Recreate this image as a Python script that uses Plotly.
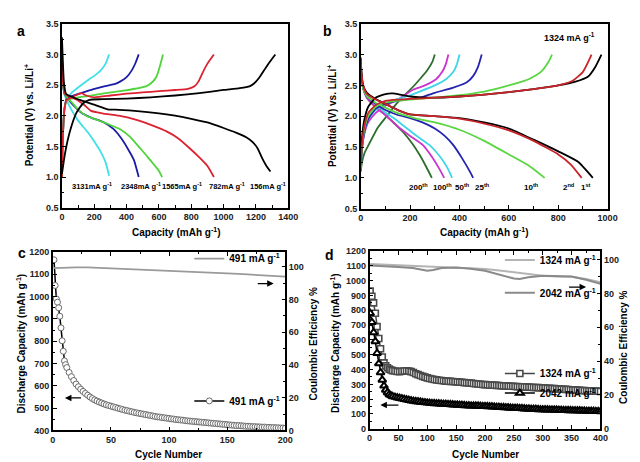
import plotly.graph_objects as go

# ---------------- Panel a : rate capability, capacity (mAh/g) vs potential (V) ----------------
a156_dis_cap = [0, 4, 12, 25, 60, 120, 200, 290, 330, 450, 600, 700, 800, 900, 1000, 1080, 1140, 1180, 1210, 1240, 1265, 1290]
a156_dis_v = [3.28, 3.0, 2.55, 2.36, 2.31, 2.25, 2.18, 2.10, 2.10, 2.08, 2.04, 2.0, 1.95, 1.89, 1.80, 1.72, 1.65, 1.57, 1.47, 1.30, 1.18, 1.09]
a156_chg_cap = [0, 20, 50, 90, 130, 170, 250, 400, 550, 700, 850, 1000, 1100, 1160, 1190, 1220, 1260, 1300, 1320]
a156_chg_v = [1.05, 1.4, 1.75, 2.05, 2.2, 2.26, 2.27, 2.28, 2.3, 2.33, 2.37, 2.42, 2.45, 2.48, 2.53, 2.62, 2.78, 2.93, 3.0]

a782_dis_cap = [0, 5, 15, 30, 60, 100, 140, 180, 250, 350, 450, 550, 650, 720, 790, 850, 900, 940]
a782_dis_v = [3.0, 2.6, 2.38, 2.33, 2.3, 2.25, 2.17, 2.08, 2.04, 2.0, 1.94, 1.85, 1.74, 1.63, 1.47, 1.32, 1.18, 1.0]
a782_chg_cap = [0, 5, 15, 30, 60, 100, 120, 150, 200, 300, 400, 500, 600, 700, 780, 820, 845, 870, 900, 940]
a782_chg_v = [1.0, 1.6, 2.1, 2.26, 2.3, 2.35, 2.37, 2.33, 2.3, 2.33, 2.36, 2.38, 2.4, 2.42, 2.44, 2.48, 2.56, 2.7, 2.85, 3.0]

a1565_dis_cap = [0, 5, 15, 30, 60, 100, 150, 200, 280, 360, 420, 480, 530, 570, 600, 620]
a1565_dis_v = [3.0, 2.6, 2.38, 2.3, 2.22, 2.1, 2.0, 1.95, 1.87, 1.78, 1.66, 1.48, 1.33, 1.2, 1.1, 1.0]
a1565_chg_cap = [0, 5, 15, 30, 60, 100, 160, 250, 360, 450, 520, 560, 585, 605, 625]
a1565_chg_v = [1.0, 1.6, 2.1, 2.25, 2.28, 2.3, 2.32, 2.36, 2.4, 2.44, 2.48, 2.55, 2.64, 2.8, 3.0]

a2348_dis_cap = [0, 5, 15, 30, 60, 120, 180, 260, 320, 370, 410, 445, 475]
a2348_dis_v = [3.0, 2.6, 2.36, 2.3, 2.2, 2.05, 1.97, 1.89, 1.78, 1.62, 1.45, 1.28, 1.0]
a2348_chg_cap = [0, 5, 15, 30, 60, 119, 190, 261, 330, 362, 400, 432, 455, 475]
a2348_chg_v = [1.0, 1.6, 2.1, 2.28, 2.32, 2.37, 2.43, 2.48, 2.52, 2.56, 2.63, 2.74, 2.86, 3.0]

a3131_dis_cap = [0, 5, 15, 30, 58, 100, 160, 200, 240, 270, 292]
a3131_dis_v = [3.0, 2.6, 2.35, 2.25, 2.1, 1.92, 1.73, 1.58, 1.41, 1.24, 1.02]
a3131_chg_cap = [0, 5, 15, 30, 58, 100, 160, 200, 240, 270, 292]
a3131_chg_v = [1.0, 1.6, 2.1, 2.28, 2.37, 2.46, 2.58, 2.65, 2.74, 2.85, 3.0]

a_labels = ["3131mA g<sup>-1</sup>", "2348mA g<sup>-1</sup>", "1565mA g<sup>-1</sup>", "782mA g<sup>-1</sup>", "156mA g<sup>-1</sup>"]
a_label_x = [188, 491, 745, 1018, 1273]

# ---------------- Panel b : cycling at 1324 mA/g ----------------
b1_dis_cap = [0, 3, 10, 25, 60, 100, 150, 200, 300, 400, 500, 600, 700, 800, 880, 940]
b1_dis_v = [2.95, 2.7, 2.5, 2.38, 2.28, 2.2, 2.1, 2.03, 2.0, 1.97, 1.9, 1.8, 1.62, 1.43, 1.26, 1.0]
b1_chg_cap = [0, 5, 15, 30, 60, 100, 130, 160, 200, 300, 400, 500, 600, 700, 800, 870, 920, 950, 975]
b1_chg_v = [1.3, 1.65, 1.95, 2.15, 2.3, 2.36, 2.37, 2.35, 2.32, 2.3, 2.32, 2.35, 2.39, 2.44, 2.5, 2.56, 2.64, 2.8, 3.0]

b2_dis_cap = [0, 3, 10, 25, 60, 100, 150, 200, 300, 400, 500, 600, 700, 800, 850, 895]
b2_dis_v = [2.95, 2.7, 2.5, 2.36, 2.27, 2.2, 2.1, 2.03, 2.0, 1.96, 1.88, 1.77, 1.6, 1.38, 1.22, 1.0]
b2_chg_cap = [0, 5, 15, 30, 60, 100, 150, 200, 300, 400, 500, 600, 700, 800, 860, 900, 935]
b2_chg_v = [1.2, 1.55, 1.85, 2.05, 2.18, 2.25, 2.27, 2.28, 2.3, 2.32, 2.35, 2.39, 2.44, 2.5, 2.58, 2.72, 3.0]

b10_dis_cap = [0, 3, 10, 25, 60, 100, 150, 200, 250, 300, 400, 500, 600, 680, 745]
b10_dis_v = [2.9, 2.65, 2.45, 2.33, 2.22, 2.14, 2.05, 1.99, 1.94, 1.9, 1.78, 1.6, 1.38, 1.2, 1.0]
b10_chg_cap = [0, 5, 15, 30, 60, 100, 150, 200, 300, 400, 500, 600, 680, 730, 760, 775]
b10_chg_v = [1.15, 1.5, 1.8, 2.0, 2.15, 2.22, 2.25, 2.27, 2.3, 2.34, 2.4, 2.5, 2.6, 2.72, 2.88, 3.0]

b25_dis_cap = [0, 3, 10, 25, 60, 100, 150, 200, 250, 300, 340, 375, 410, 445, 455]
b25_dis_v = [2.9, 2.65, 2.45, 2.33, 2.2, 2.1, 2.02, 1.97, 1.9, 1.8, 1.68, 1.53, 1.32, 1.08, 1.0]
b25_chg_cap = [0, 5, 15, 30, 60, 100, 150, 200, 240, 300, 372, 430, 455, 475, 490]
b25_chg_v = [1.15, 1.45, 1.75, 1.95, 2.12, 2.2, 2.25, 2.28, 2.3, 2.38, 2.46, 2.55, 2.65, 2.8, 3.0]

b50_dis_cap = [0, 3, 10, 25, 60, 100, 140, 172, 220, 279, 320, 350, 370]
b50_dis_v = [2.9, 2.65, 2.45, 2.33, 2.2, 2.06, 1.95, 1.85, 1.7, 1.53, 1.35, 1.17, 1.0]
b50_chg_cap = [0, 5, 15, 30, 60, 100, 150, 200, 239, 300, 345, 375, 390, 400]
b50_chg_v = [1.2, 1.5, 1.75, 1.95, 2.1, 2.2, 2.28, 2.34, 2.4, 2.5, 2.6, 2.72, 2.85, 3.0]

b100_dis_cap = [0, 3, 10, 25, 60, 100, 145, 200, 252, 290, 315, 338]
b100_dis_v = [2.9, 2.65, 2.45, 2.3, 2.15, 2.02, 1.85, 1.68, 1.53, 1.33, 1.17, 1.0]
b100_chg_cap = [0, 5, 15, 30, 60, 100, 150, 212, 260, 305, 330, 345, 355]
b100_chg_v = [1.25, 1.5, 1.72, 1.9, 2.05, 2.17, 2.27, 2.43, 2.5, 2.6, 2.72, 2.85, 3.0]

b200_dis_cap = [0, 3, 10, 25, 60, 105, 140, 172, 210, 239, 265, 288]
b200_dis_v = [2.9, 2.65, 2.45, 2.3, 2.15, 2.0, 1.87, 1.74, 1.55, 1.37, 1.18, 1.0]
b200_chg_cap = [0, 5, 15, 39, 70, 105, 140, 172, 210, 239, 270, 290, 300]
b200_chg_v = [1.1, 1.25, 1.4, 1.59, 1.82, 2.0, 2.18, 2.32, 2.47, 2.6, 2.75, 2.88, 3.0]

b_labels = ["200<sup>th</sup>", "100<sup>th</sup>", "50<sup>th</sup>", "25<sup>th</sup>", "10<sup>th</sup>", "2<sup>nd</sup>", "1<sup>st</sup>"]
b_label_x = [232, 332, 412, 492, 692, 844, 912]

# ---------------- Panel c : 491 mA/g cycling ----------------
c_cycle = [1, 2, 3, 4, 5, 6, 7, 8, 9, 10, 11, 12,
           14, 16, 18, 20, 22, 24, 26, 28, 30, 32, 34, 36, 38, 40, 42, 44, 46, 48, 50,
           52, 54, 56, 58, 60, 62, 64, 66, 68, 70, 72, 74, 76, 78, 80, 82, 84, 86, 88, 90,
           92, 94, 96, 98, 100, 102, 104, 106, 108, 110, 112, 114, 116, 118, 120, 122, 124, 126, 128, 130,
           132, 134, 136, 138, 140, 142, 144, 146, 148, 150, 152, 154, 156, 158, 160, 162, 164, 166, 168, 170,
           172, 174, 176, 178, 180, 182, 184, 186, 188, 190, 192, 194, 196, 198, 200]
c_discharge = [1165, 1050, 990, 975, 950, 912, 860, 802, 755, 712, 695, 682,
               660, 641, 624, 608, 596, 585, 575, 566, 558, 550, 543, 537, 532, 527, 523, 519, 515, 512, 509,
               506, 503, 500, 497, 494, 491, 489, 486, 484, 481, 479, 477, 475, 473, 471, 469, 467, 465, 463, 461,
               460, 458, 457, 455, 454, 452, 451, 449, 448, 447, 446, 444, 443, 442, 441, 440, 439, 438, 437, 436,
               435, 434, 433, 432, 431, 430, 429, 428, 427, 426, 425, 424, 423, 422, 422, 421, 420, 419, 419, 418,
               417, 417, 416, 416, 415, 415, 414, 414, 413, 413, 412, 412, 411, 411, 410]
c_ce_cycle = [1, 10, 20, 30, 40, 50, 60, 70, 80, 90, 100, 110, 120, 130, 140, 150, 160, 170, 180, 190, 200]
c_ce = [99.2, 99.5, 99.6, 99.6, 99.3, 99.2, 99.0, 98.8, 98.5, 98.1, 97.7, 97.4, 97.0, 96.7, 96.3, 96.0, 95.6, 95.2, 94.8, 94.4, 94.0]

# ---------------- Panel d : 1324 and 2042 mA/g cycling ----------------
d_cycle = [1, 4, 7, 10, 13, 16, 19, 22, 25, 28, 31, 34, 37, 40,
           44, 48, 52, 56, 60, 64, 68, 72, 76, 80, 84, 88, 92, 96, 100,
           104, 108, 112, 116, 120, 124, 128, 132, 136, 140, 144, 148, 152, 156, 160, 164, 168, 172, 176, 180,
           184, 188, 192, 196, 200, 204, 208, 212, 216, 220, 224, 228, 232, 236, 240, 244, 248, 252, 256, 260,
           264, 268, 272, 276, 280, 284, 288, 292, 296, 300, 304, 308, 312, 316, 320, 324, 328, 332, 336, 340,
           344, 348, 352, 356, 360, 364, 368, 372, 376, 380, 384, 388, 392, 396, 400]
d_dis_1324 = [930, 895, 850, 780, 690, 610, 540, 485, 445, 425, 412, 403, 397, 393,
              390, 387, 386, 388, 390, 391, 389, 386, 380, 372, 366, 360, 354, 349, 344,
              340, 336, 333, 330, 328, 326, 324, 322, 321, 320, 319, 318, 317, 315, 314, 312, 311, 309, 308, 306,
              304, 302, 301, 299, 298, 297, 296, 295, 294, 293, 292, 291, 290, 289, 288, 287, 287, 286, 285, 284,
              284, 283, 282, 281, 280, 279, 279, 278, 277, 276, 275, 274, 273, 272, 271, 270, 269, 268, 267, 266,
              265, 264, 263, 262, 261, 260, 259, 258, 257, 256, 255, 254, 254, 253, 252]
d_dis_2042 = [780, 720, 650, 590, 510, 440, 380, 330, 290, 262, 245, 232, 224, 218,
              214, 210, 207, 203, 200, 196, 193, 190, 187, 185, 183, 181, 179, 177, 175,
              174, 172, 171, 170, 169, 168, 167, 166, 165, 164, 163, 162, 161, 160, 159, 158, 157, 156, 155, 155,
              154, 154, 153, 152, 152, 151, 150, 149, 148, 147, 146, 145, 144, 143, 142, 141, 140, 140, 139, 138,
              137, 136, 135, 134, 133, 133, 132, 131, 130, 130, 129, 129, 128, 128, 127, 127, 126, 126, 125, 125,
              124, 124, 123, 123, 122, 122, 121, 121, 120, 120, 119, 119, 118, 118, 117]
d_ce1324_cycle = [1, 25, 50, 75, 100, 125, 150, 175, 200, 225, 250, 275, 300, 325, 350, 375, 400]
d_ce1324 = [97.4, 97.0, 96.5, 96.0, 95.7, 95.4, 95.1, 94.8, 94.4, 93.5, 92.4, 91.4, 90.4, 90.0, 89.8, 88.5, 86.6]
d_ce2042_cycle = [1, 25, 50, 75, 90, 100, 110, 125, 150, 175, 200, 225, 250, 260, 275, 300, 325, 350, 375, 400]
d_ce2042 = [96.5, 96.2, 95.5, 95.0, 94.2, 93.3, 93.8, 95.0, 95.2, 94.6, 93.3, 91.0, 88.8, 88.5, 89.5, 90.4, 90.3, 90.0, 88.0, 85.6]

W, H = 640, 462
FONT = "Liberation Sans, Arial, sans-serif"


def pxx(x):
    return x / W


def pxy(y):
    return 1 - y / H


fig = go.Figure()


def curve(cap, v, color, xa, ya):
    fig.add_trace(go.Scatter(x=cap, y=v, mode="lines", xaxis=xa, yaxis=ya, showlegend=False,
                             hoverinfo="skip",
                             line=dict(color=color, width=1.8, shape="spline", smoothing=0.5)))


# panel a
a_sets = [
    (a3131_dis_cap, a3131_dis_v, a3131_chg_cap, a3131_chg_v, "#3fe0e6"),
    (a2348_dis_cap, a2348_dis_v, a2348_chg_cap, a2348_chg_v, "#1c1ca6"),
    (a1565_dis_cap, a1565_dis_v, a1565_chg_cap, a1565_chg_v, "#4fd43a"),
    (a782_dis_cap, a782_dis_v, a782_chg_cap, a782_chg_v, "#dc2230"),
    (a156_dis_cap, a156_dis_v, a156_chg_cap, a156_chg_v, "#000000"),
]
for dc, dv, cc, cv, col in a_sets:
    curve(dc, dv, col, "x", "y")
    curve(cc, cv, col, "x", "y")

# panel b
b_sets = [
    (b200_dis_cap, b200_dis_v, b200_chg_cap, b200_chg_v, "#2d6e2d"),
    (b100_dis_cap, b100_dis_v, b100_chg_cap, b100_chg_v, "#cc33cc"),
    (b50_dis_cap, b50_dis_v, b50_chg_cap, b50_chg_v, "#3ed6e6"),
    (b25_dis_cap, b25_dis_v, b25_chg_cap, b25_chg_v, "#2424b0"),
    (b10_dis_cap, b10_dis_v, b10_chg_cap, b10_chg_v, "#5ad642"),
    (b1_dis_cap, b1_dis_v, b1_chg_cap, b1_chg_v, "#000000"),
    (b2_dis_cap, b2_dis_v, b2_chg_cap, b2_chg_v, "#c8242a"),
]
for dc, dv, cc, cv, col in b_sets:
    curve(dc, dv, col, "x2", "y2")
    curve(cc, cv, col, "x2", "y2")

LEGFONT = dict(family=FONT, size=10, color="black", weight="bold")

# panel c
fig.add_trace(go.Scatter(x=c_ce_cycle, y=c_ce, mode="lines", xaxis="x3", yaxis="y5",
                         name="491 mA g<sup>-1</sup>", legend="legend",
                         line=dict(color="#9a9a9a", width=1.8)))
fig.add_trace(go.Scatter(x=c_cycle, y=c_discharge, mode="lines+markers", xaxis="x3", yaxis="y3",
                         name="491 mA g<sup>-1</sup>", legend="legend2",
                         line=dict(color="black", width=1.5),
                         marker=dict(symbol="circle", size=6, color="white",
                                     line=dict(color="#6a6a6a", width=1))))

# panel d
fig.add_trace(go.Scatter(x=d_ce1324_cycle, y=d_ce1324, mode="lines", xaxis="x4", yaxis="y6",
                         name="1324 mA g<sup>-1</sup>", legend="legend3",
                         line=dict(color="#b4b4b4", width=2)))
fig.add_trace(go.Scatter(x=d_ce2042_cycle, y=d_ce2042, mode="lines", xaxis="x4", yaxis="y6",
                         name="2042 mA g<sup>-1</sup>", legend="legend4",
                         line=dict(color="#8a8a8a", width=2)))
fig.add_trace(go.Scatter(x=d_cycle, y=d_dis_1324, mode="lines+markers", xaxis="x4", yaxis="y4",
                         name="1324 mA g<sup>-1</sup>", legend="legend5",
                         line=dict(color="#444444", width=1.5),
                         marker=dict(symbol="square", size=6, color="white",
                                     line=dict(color="#4a4a4a", width=1.6))))
fig.add_trace(go.Scatter(x=d_cycle, y=d_dis_2042, mode="lines+markers", xaxis="x4", yaxis="y4",
                         name="2042 mA g<sup>-1</sup>", legend="legend6",
                         line=dict(color="black", width=1.5),
                         marker=dict(symbol="triangle-up", size=7, color="white",
                                     line=dict(color="black", width=2))))

TICKFONT = dict(family=FONT, size=9, color="#222222", weight="bold")


def ax(**kw):
    base = dict(showline=True, linecolor="black", linewidth=1.5, ticks="inside", ticklen=4,
                tickwidth=1.2, tickcolor="black", showgrid=False, zeroline=False,
                tickfont=TICKFONT, mirror=True)
    base.update(kw)
    return base


def minor(d):
    return dict(ticks="inside", ticklen=2.5, dtick=d, tickwidth=1, tickcolor="black", showgrid=False)


def legend_at(x_px, y_px):
    return dict(x=pxx(x_px), y=pxy(y_px), xanchor="left", yanchor="middle", font=LEGFONT,
                bgcolor="rgba(0,0,0,0)", borderwidth=0, itemwidth=30, tracegroupgap=0)


fig.update_layout(
    width=W, height=H, margin=dict(l=0, r=0, t=0, b=0),
    paper_bgcolor="white", plot_bgcolor="white",
    font=dict(family=FONT, color="black"),
    showlegend=True,
    xaxis=ax(domain=[pxx(52), pxx(283)], anchor="y", range=[0, 1400], dtick=200, minor=minor(100)),
    yaxis=ax(domain=[pxy(199), pxy(11)], anchor="x", range=[0.5, 3.5], dtick=0.5, tickformat=".1f",
             minor=minor(0.25)),
    xaxis2=ax(domain=[pxx(357), pxx(609)], anchor="y2", range=[0, 1000], dtick=200, minor=minor(100)),
    yaxis2=ax(domain=[pxy(200), pxy(11)], anchor="x2", range=[0.5, 3.5], dtick=0.5, tickformat=".1f",
              minor=minor(0.25)),
    xaxis3=ax(domain=[pxx(42.7), pxx(280)], anchor="y3", range=[0, 200], dtick=50, mirror="ticks",
              minor=minor(25)),
    yaxis3=ax(domain=[pxy(426.7), pxy(244.3)], anchor="x3", range=[400, 1200], dtick=100, mirror=False,
              minor=minor(50)),
    yaxis5=ax(overlaying="y3", side="right", anchor="x3", range=[0, 109], dtick=20, mirror=False,
              minor=minor(10)),
    xaxis4=ax(domain=[pxx(366), pxx(601.7)], anchor="y4", range=[0, 400], dtick=50, mirror="ticks",
              minor=minor(25)),
    yaxis4=ax(domain=[pxy(425), pxy(243.3)], anchor="x4", range=[0, 1200], dtick=100, mirror=False,
              minor=minor(50)),
    yaxis6=ax(overlaying="y4", side="right", anchor="x4", range=[0, 105], dtick=20, mirror=False,
              minor=minor(10)),
    legend=legend_at(182, 251),
    legend2=legend_at(182, 396.5),
    legend3=legend_at(499, 252.5),
    legend4=legend_at(499, 286),
    legend5=legend_at(499, 368.5),
    legend6=legend_at(499, 388.5),
)

ann = []


def paper_text(text, x, y, size=10, angle=0):
    ann.append(dict(text=text, x=pxx(x), y=pxy(y), xref="paper", yref="paper", showarrow=False,
                    textangle=angle, xanchor="center", yanchor="middle",
                    font=dict(family=FONT, size=size, color="black", weight="bold")))


# panel letters
paper_text("a", 10, 18, 14)
paper_text("b", 323, 18, 14)
paper_text("c", 11, 245, 14)
paper_text("d", 325, 247, 14)

# axis titles
paper_text("Potential (V) vs. Li/Li<sup>+</sup>", 18, 105, 10, -90)
paper_text("Capacity (mAh g<sup>-1</sup>)", 168, 224, 10)
paper_text("Potential (V) vs. Li/Li<sup>+</sup>", 327, 105, 10, -90)
paper_text("Capacity (mAh g<sup>-1</sup>)", 483, 224, 10)
paper_text("Discharge Capacity (mAh g<sup>-1</sup>)", 10, 338, 10, -90)
paper_text("Coulombic Efficiency %", 309, 338, 10, -90)
paper_text("Cycle Number", 161, 451, 10)
paper_text("Discharge Capacity (mAh g<sup>-1</sup>)", 330, 337, 10, -90)
paper_text("Coulombic Efficiency %", 625, 342, 10, -90)
paper_text("Cycle Number", 484, 451, 10)

# curve labels panel a and b
for t, xv in zip(a_labels, a_label_x):
    ann.append(dict(text=t, x=xv, y=0.85, xref="x", yref="y", showarrow=False,
                    font=dict(family=FONT, size=7.5, color="black", weight="bold")))
for t, xv in zip(b_labels, b_label_x):
    ann.append(dict(text=t, x=xv, y=0.85, xref="x2", yref="y2", showarrow=False,
                    font=dict(family=FONT, size=8, color="black", weight="bold")))
ann.append(dict(text="1324 mA g<sup>-1</sup>", x=845, y=3.29, xref="x2", yref="y2", showarrow=False,
                font=dict(family=FONT, size=9, color="black", weight="bold")))


# arrows
def arrow(xh, yh, xt, yt, xr, yr):
    ann.append(dict(x=xh, y=yh, ax=xt, ay=yt, xref=xr, yref=yr, axref=xr, ayref=yr, text="",
                    showarrow=True, arrowhead=2, arrowsize=1, arrowwidth=1.3, arrowcolor="black"))


arrow(10.4, 546, 25.5, 546, "x3", "y3")
arrow(190, 89.7, 175, 89.7, "x3", "y5")
arrow(375, 83.7, 343, 83.7, "x4", "y6")
arrow(18.7, 160, 52.6, 160, "x4", "y4")

fig.update_layout(annotations=ann)
fig.write_html("out.html")
